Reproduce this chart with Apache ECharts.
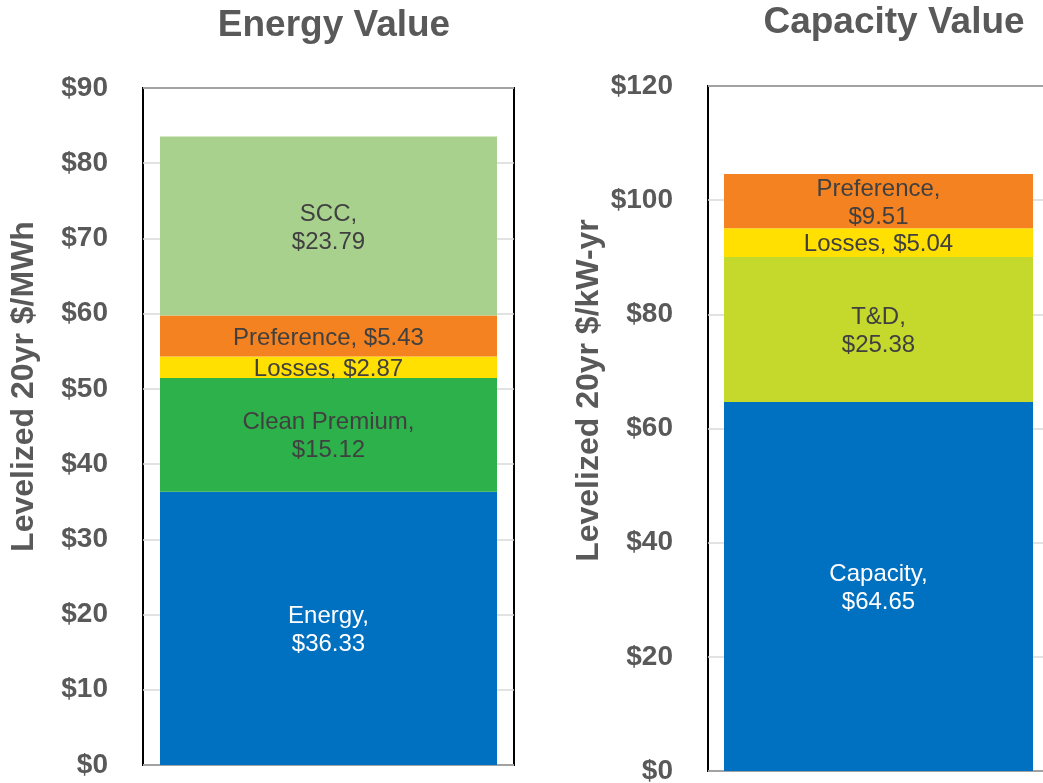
<!DOCTYPE html>
<html>
<head>
<meta charset="utf-8">
<script src="https://cdn.jsdelivr.net/npm/echarts@6/dist/echarts.min.js"></script>
<style>
html,body{margin:0;padding:0;background:#fff;}
#c{width:1043px;height:783px;}
</style>
</head>
<body>
<div id="c"></div>
<script>
// ---- data ----
const energyNames = ['Energy', 'Clean Premium', 'Losses', 'Preference', 'SCC'];
const energyValues = [36.33, 15.12, 2.87, 5.43, 23.79];
const energySep = [',\n', ',\n', ', ', ', ', ',\n'];
const capacityNames = ['Capacity', 'T&D', 'Losses', 'Preference'];
const capacityValues = [64.65, 25.38, 5.04, 9.51];
const capacitySep = [',\n', ',\n', ', ', ',\n'];
const energyTicks = [0, 10, 20, 30, 40, 50, 60, 70, 80, 90];
const capacityTicks = [0, 20, 40, 60, 80, 100, 120];
const titles = ['Energy Value', 'Capacity Value'];
const axisNames = ['Levelized 20yr $/MWh', 'Levelized 20yr $/kW-yr'];

const colorMap = {
  'Energy': '#0070C0', 'Capacity': '#0070C0',
  'Clean Premium': '#2DB14B', 'T&D': '#C5D92D',
  'Losses': '#FFE000', 'Preference': '#F58220', 'SCC': '#A9D18E'
};
const labelColorMap = { 'Energy': '#ffffff', 'Capacity': '#ffffff' };

const chart = echarts.init(document.getElementById('c'));
const grey = '#595959';
const FF = 'Liberation Sans, Arial, sans-serif';

function makeSeries(names, values, seps, idx, barW) {
  return names.map((n, i) => ({
    name: n + '_' + idx,
    type: 'bar',
    stack: 's' + idx,
    xAxisIndex: idx,
    yAxisIndex: idx,
    barWidth: barW,
    data: [values[i]],
    itemStyle: { color: colorMap[n] },
    label: {
      show: true,
      position: 'inside',
      offset: [0, 2],
      formatter: n + seps[i] + '$' + values[i].toFixed(2),
      fontFamily: FF,
      fontSize: 24,
      lineHeight: 28,
      color: labelColorMap[n] || '#404040'
    }
  }));
}

function yAx(idx, ticks, pad) {
  return {
    gridIndex: idx,
    type: 'value',
    min: ticks[0],
    max: ticks[ticks.length - 1],
    interval: ticks[1] - ticks[0],
    name: axisNames[idx],
    nameLocation: 'middle',
    nameGap: 103,
    nameTextStyle: {
      fontFamily: FF,
      fontSize: 32, fontWeight: 'bold', color: grey,
      padding: [0, 0, 0, pad]
    },
    axisLine: { show: false },
    axisTick: { show: false },
    axisLabel: {
      margin: 35,
      fontFamily: FF,
      fontSize: 28, fontWeight: 'bold', color: grey,
      formatter: v => '$' + v
    },
    splitLine: { show: true, lineStyle: { color: '#d9d9d9', width: 1.5 } }
  };
}

const option = {
  animation: false,
  backgroundColor: '#ffffff',
  title: [
    { text: titles[0], left: 334, top: 7, textAlign: 'center', padding: 0,
      textStyle: { fontFamily: FF, fontSize: 37, fontWeight: 'bold', color: grey } },
    { text: titles[1], left: 894, top: 4, textAlign: 'center', padding: 0,
      textStyle: { fontFamily: FF, fontSize: 37, fontWeight: 'bold', color: grey } }
  ],
  grid: [
    { left: 143, top: 88, width: 371, height: 677, show: true, borderColor: '#000', borderWidth: 2, backgroundColor: 'transparent', outerBoundsMode: 'none', containLabel: false },
    { left: 708, top: 86, width: 341, height: 685, show: true, borderColor: '#000', borderWidth: 2, backgroundColor: 'transparent', outerBoundsMode: 'none', containLabel: false }
  ],
  xAxis: [
    { gridIndex: 0, type: 'category', data: [''], axisLine: { show: false }, axisTick: { show: false }, axisLabel: { show: false } },
    { gridIndex: 1, type: 'category', data: [''], axisLine: { show: false }, axisTick: { show: false }, axisLabel: { show: false } }
  ],
  yAxis: [yAx(0, energyTicks, 80), yAx(1, capacityTicks, 76)],
  series: [].concat(
    makeSeries(energyNames, energyValues, energySep, 0, 337),
    makeSeries(capacityNames, capacityValues, capacitySep, 1, 309)
  )
};
chart.setOption(option);
</script>
</body>
</html>
